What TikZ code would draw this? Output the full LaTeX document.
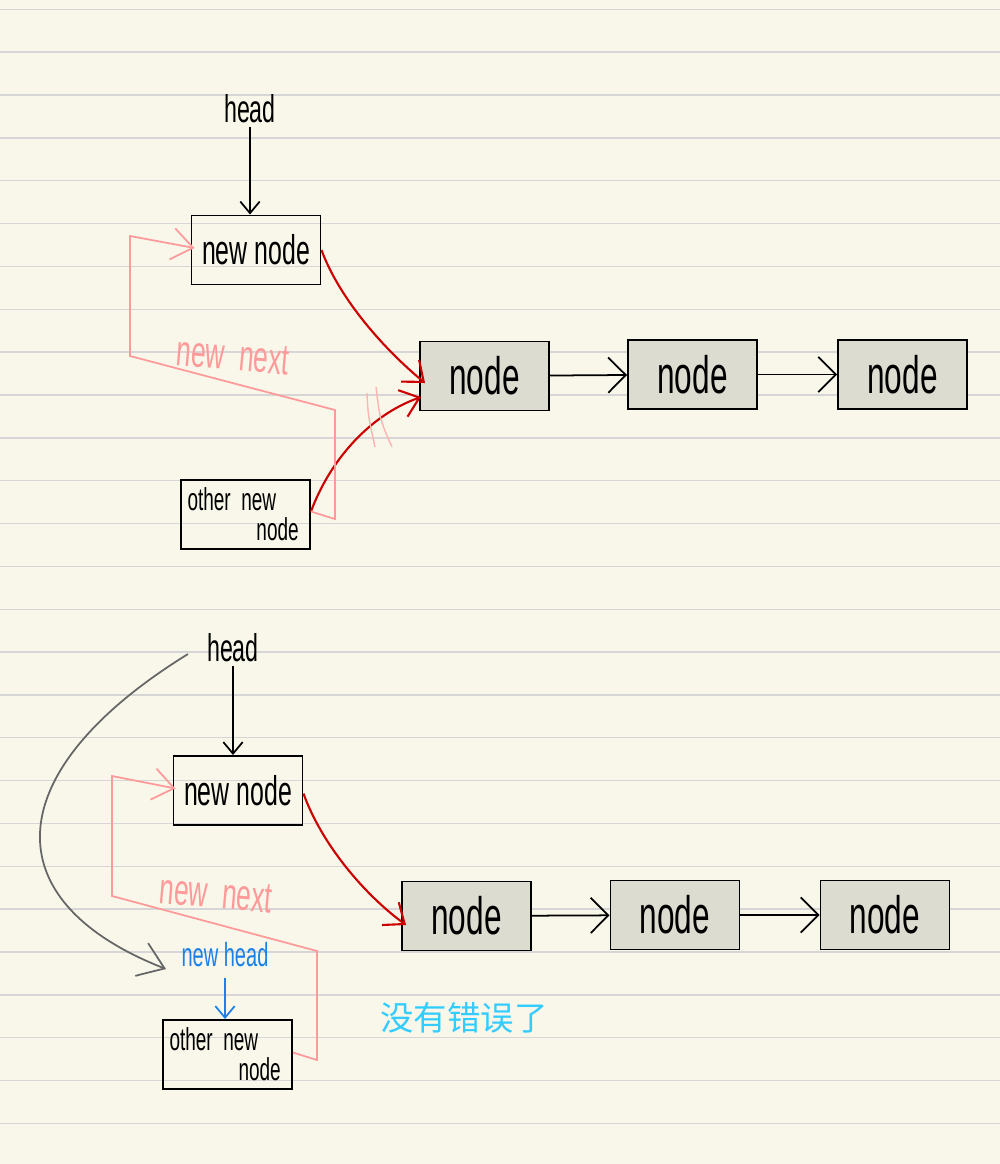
\documentclass[tikz,border=0pt]{standalone}
\usepackage{fontspec}
\usepackage{xcolor}
\usepackage{tikz}
\usetikzlibrary{arrows.meta, calc}
\newfontfamily\hand[FakeStretch=0.6]{Liberation Sans}
\newfontfamily\cjk{Noto Sans CJK SC}
\definecolor{paper}{HTML}{F8F7E9}
\definecolor{rulegray}{HTML}{D6D6D6}
\definecolor{cellgray}{HTML}{DDDCD0}
\definecolor{linkred}{HTML}{CC0000}
\definecolor{notepink}{HTML}{FF9A9A}
\definecolor{headblue}{HTML}{1C80EA}
\definecolor{notecyan}{HTML}{33CCFF}

\begin{document}
\begin{tikzpicture}[x=0.1mm, y=-0.1mm,
  plain/.style={rectangle, draw, line width=0.55pt, minimum width=12.9mm,
                minimum height=6.9mm, inner sep=0pt, font=\hand\fontsize{11.8}{12}\selectfont},
  cell/.style={plain, fill=cellgray, font=\hand\fontsize{15}{16}\selectfont},
  label/.style={inner sep=1pt, font=\hand\fontsize{11}{12}\selectfont},
  link/.style={-{Straight Barb[length=5pt,width=10pt]}, line width=0.5pt},
  pointer/.style={-{Straight Barb[length=3.3pt,width=5.5pt]}, line width=0.5pt},
  redlink/.style={-{Straight Barb[length=5pt,width=8pt]}, line width=0.6pt, linkred},
  pinklink/.style={-{Straight Barb[length=6pt,width=9pt]}, line width=0.5pt, notepink},
  rule/.style={rulegray, line width=0.4pt}
]
  % paper
  \fill[paper] (0,0) rectangle (1000,1164);
  \useasboundingbox (0,0) rectangle (1000,1164);
  \foreach \k in {0,...,26}
    \draw[rule] (0,{9.3+42.85*\k}) -- (1000,{9.3+42.85*\k});

  % ---- before ----
  \node[label, anchor=base] (head1) at (250,122) {head};
  \node[plain] (nn1) at (256,250) {new node};
  \node[cell] (g11) at (484.5,376) {node};
  \node[cell] (g12) at (692.5,374.5) {node};
  \node[cell] (g13) at (902.5,374.5) {node};
  \node[plain, text width=11.6mm, align=left, font=\hand\fontsize{9}{8.6}\selectfont]
    (on1) at (245.5,514.5) {other new\\\hspace*{6.9mm}node};

  \draw[pointer] (head1.south) -- (head1.south |- nn1.north);
  \draw[link] (g11) -- (g12);
  \draw[link] (g12) -- (g13);
  \draw[redlink] (nn1.east) .. controls (340,300) and (385,350) .. ($(g11.west)+(6,7)$);
  \draw[redlink] ($(on1.east)+(0,-3)$) .. controls (330,460) and (370,415) .. ($(g11.west)+(2,21)$);
  \draw[pinklink] ($(on1.east)+(0,-3)$) -- (335,519) -- (335,410) -- (130,356)
    -- (130,236) -- ($(nn1.west)+(4,-2)$);
  \node[label, notepink, rotate=-5, font=\hand\fontsize{12.5}{13}\selectfont] (nx1) at (233,356) {new\hspace{2pt} next};
  % broken link
  \draw[notepink!75, line width=0.4pt] (367,393) .. controls (368,415) .. (375,447);
  \draw[notepink!75, line width=0.4pt] (376,387) .. controls (380,420) .. (392,447);

  % ---- after ----
  \node[label, anchor=base] (head2) at (233,661) {head};
  \node[plain] (nn2) at (238,790.5) {new node};
  \node[cell] (g21) at (466.5,916) {node};
  \node[cell] (g22) at (675,915) {node};
  \node[cell] (g23) at (885,915) {node};
  \node[plain, text width=11.6mm, align=left, font=\hand\fontsize{9}{8.6}\selectfont]
    (on2) at (227.5,1054.5) {other new\\\hspace*{6.9mm}node};
  \node[label, anchor=base, headblue, font=\hand\fontsize{9.5}{10}\selectfont] (nh) at (225,966) {new head};
  \node[notecyan, font=\cjk\fontsize{9.5}{10}\selectfont] (note) at (464,1018) {没有错误了};

  \draw[pointer] (head2.south) -- (head2.south |- nn2.north);
  \draw[pointer, headblue] ([yshift=-2pt]nh.south) -- (nh.south |- on2.north);
  \draw[link] (g21) -- (g22);
  \draw[link] (g22) -- (g23);
  \draw[redlink] ($(nn2.east)+(0,3)$) .. controls (322,845) and (365,895) .. ($(g21.west)+(5,9)$);
  \draw[pinklink] ($(on2.east)+(0,-2)$) -- (317,1060) -- (317,951) -- (112,896)
    -- (112,776) -- ($(nn2.west)+(3,-2)$);
  \node[label, notepink, rotate=-5, font=\hand\fontsize{12.5}{13}\selectfont] (nx2) at (216,894) {new\hspace{2pt} next};
  \coordinate (gs) at (188,654);
  \coordinate (ge) at (166,969);
  \draw[-{Straight Barb[length=7pt,width=10pt]}, line width=0.5pt, black!60]
    (gs) .. controls (0,770) and (-10,900) .. (ge);
\end{tikzpicture}
\end{document}
